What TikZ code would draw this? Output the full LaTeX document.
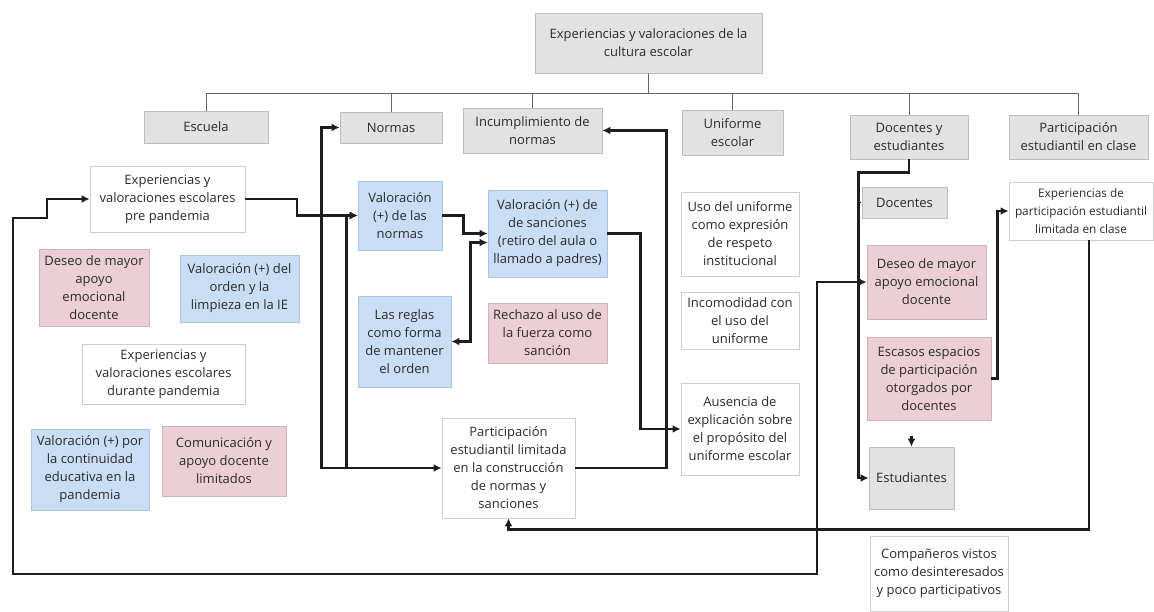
\documentclass[tikz,border=0pt]{standalone}
\usepackage{fontspec}
\setmainfont{Open Sans}
\usetikzlibrary{arrows.meta}
\definecolor{catfill}{HTML}{E2E2E2}
\definecolor{catline}{HTML}{BDBDBD}
\definecolor{posfill}{HTML}{C9DDF5}
\definecolor{posline}{HTML}{A9C4E6}
\definecolor{negfill}{HTML}{EBCFD5}
\definecolor{negline}{HTML}{D4B0B8}
\definecolor{plainline}{HTML}{CFCFCF}
\definecolor{ink}{HTML}{2B2B2B}
\definecolor{wire}{HTML}{1E1E1E}
\tikzset{
  card/.style={rectangle, inner sep=0pt, align=center, text=ink,
    font={\fontsize{13}{18}\selectfont}, line width=0.8pt},
  catbox/.style={card, fill=catfill, draw=catline},
  ideabox/.style={card, fill=white, draw=plainline},
  goodbox/.style={card, fill=posfill, draw=posline},
  needbox/.style={card, fill=negfill, draw=negline},
  tree/.style={draw=black!60, line width=0.8pt},
  link/.style={draw=wire, line width=2.3pt, arrows={-Latex[length=8pt,width=8pt]}},
  twoway/.style={link, arrows={Latex[length=8pt,width=8pt]-Latex[length=8pt,width=8pt]}}
}
\begin{document}
\begin{tikzpicture}[x=1pt,y=-1pt]
      \useasboundingbox (0,0) rectangle (1154,612);
      \node[catbox, minimum width=227, minimum height=60] (top) at (648.5,43) {Experiencias y valoraciones de la\\cultura escolar};
      \node[catbox, minimum width=124, minimum height=32] (escuela) at (206,127) {Escuela};
      \node[catbox, minimum width=102, minimum height=31] (normas) at (391,127.5) {Normas};
      \node[catbox, minimum width=139, minimum height=45] (incump) at (532.5,130.5) {Incumplimiento de\\normas};
      \node[catbox, minimum width=101, minimum height=45] (uniforme) at (732.5,132.5) {Uniforme\\escolar};
      \node[catbox, minimum width=118, minimum height=44] (docest) at (909,137) {Docentes y\\estudiantes};
      \node[catbox, minimum width=139, minimum height=44] (partclase) at (1078.5,137) {Participación\\estudiantil en clase};

      \node[ideabox, minimum width=155, minimum height=66] (pre) at (167.5,199) {Experiencias y\\valoraciones escolares\\pre pandemia};
      \node[needbox, minimum width=110, minimum height=77] (apoyoesc) at (94,287.5) {Deseo de mayor\\apoyo\\emocional\\docente};
      \node[goodbox, minimum width=119, minimum height=67] (orden) at (239.5,288.5) {Valoración (+) del\\orden y la\\limpieza en la IE};
      \node[ideabox, minimum width=163, minimum height=60] (durante) at (163.5,374) {Experiencias y\\valoraciones escolares\\durante pandemia};
      \node[goodbox, minimum width=118, minimum height=81] (continuidad) at (90,469.5) {Valoración (+) por\\la continuidad\\educativa en la\\pandemia};
      \node[needbox, minimum width=124, minimum height=70] (comunic) at (224,461) {Comunicación y\\apoyo docente\\limitados};

      \node[goodbox, minimum width=84, minimum height=69] (valnormas) at (400,215.5) {Valoración\\(+) de las\\normas};
      \node[goodbox, minimum width=119, minimum height=87] (sanciones) at (547.5,233.5) {Valoración (+) de\\de sanciones\\(retiro del aula o\\llamado a padres)};
      \node[goodbox, minimum width=93, minimum height=91] (reglas) at (404.5,341.5) {Las reglas\\como forma\\de mantener\\el orden};
      \node[needbox, minimum width=119, minimum height=60] (fuerza) at (547.5,333) {Rechazo al uso de\\la fuerza como\\sanción};
      \node[ideabox, minimum width=133, minimum height=100] (partlim) at (508.5,468) {Participación\\estudiantil limitada\\en la construcción\\de normas y\\sanciones};

      \node[ideabox, minimum width=118, minimum height=84] (respeto) at (740,234) {Uso del uniforme\\como expresión\\de respeto\\institucional};
      \node[ideabox, minimum width=118, minimum height=57] (incomod) at (740,320.5) {Incomodidad con\\el uso del\\uniforme};
      \node[ideabox, minimum width=118, minimum height=92] (ausencia) at (740,429) {Ausencia de\\explicación sobre\\el propósito del\\uniforme escolar};

      \node[catbox, minimum width=85, minimum height=31] (docentes) at (904.5,202.5) {Docentes};
      \node[needbox, minimum width=119, minimum height=74] (apoyodoc) at (926.5,282) {Deseo de mayor\\apoyo emocional\\docente};
      \node[needbox, minimum width=124, minimum height=83] (escasos) at (929,378.5) {Escasos espacios\\de participación\\otorgados por\\docentes};
      \node[catbox, minimum width=85, minimum height=62] (estud) at (911.5,478) {Estudiantes};

      \node[ideabox, minimum width=144, minimum height=58, font={\fontsize{11.8}{18}\selectfont}] (exppart) at (1081,211) {Experiencias de\\participación estudiantil\\limitada en clase};
      \node[ideabox, minimum width=138, minimum height=75] (compan) at (939,573.5) {Compañeros vistos\\como desinteresados\\y poco participativos};

      \draw[tree] (top.south) -- ++(0,20) coordinate (hub);
      \begin{scope}[tree]
        \draw (hub) -| (escuela.north);
        \draw (hub) -| (normas.north);
        \draw (hub) -| (incump.north);
        \draw (hub) -| (uniforme.north);
        \draw (hub) -| (docest.north);
        \draw (hub) -| (partclase.north);
      \end{scope}

      \draw[twoway] (pre.west) -| (47,218) -| (13,574) -| (817,282) -- (apoyodoc.west);
      \draw[link] (pre.east) -- (297,199) |- (valnormas.west);
      \draw[twoway] (normas.west) -- ++(-18,0) |- (partlim.west);
      \draw[link] (partlim.west) ++(-95,0) |- (valnormas.west);
      \draw[link] (valnormas.east) -- ++(21,0) |- (sanciones.west);
      \draw[twoway] (reglas.east) -- ++(19,0) |- ([yshift=-9pt]sanciones.west);
      \draw[link] (sanciones.east) -- ++(33,0) |- (ausencia.west);
      \draw[link] (partlim.east) -- ++(91,0) |- (incump.east);
      \draw[link] (docest.south) -- ++(0,13) -| ([xshift=-10pt]estud.west) -- (estud.west);
      \draw[link, arrows={-Latex[length=4pt,width=5pt]}] ([xshift=-4pt]docentes.west) -- (docentes.west);
      \draw[link] (escasos.east) -- ++(6,0) |- (exppart.west);
      \draw[link] ([xshift=8pt]exppart.south) -- ++(0,289) -| (partlim.south);
      \coordinate (stub) at (911.5,436);
      \draw[link] (stub) -- (estud.north);
\end{tikzpicture}
\end{document}
